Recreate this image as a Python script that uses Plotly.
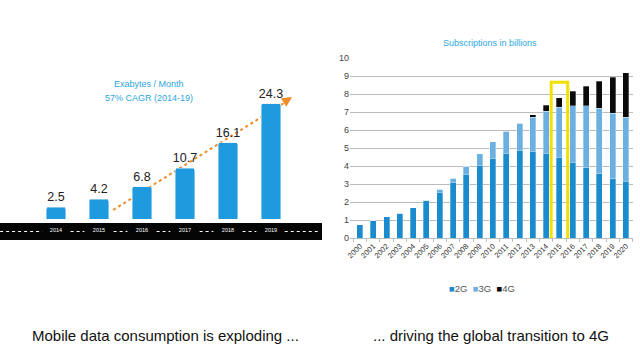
import plotly.graph_objects as go

# ---------------- data ----------------
traffic_years = ["2014", "2015", "2016", "2017", "2018", "2019"]
traffic_values = [2.5, 4.2, 6.8, 10.7, 16.1, 24.3]

sub_years = [str(y) for y in range(2000, 2021)]
sub_2g = [0.74, 1.0, 1.17, 1.37, 1.68, 2.1, 2.55, 3.07, 3.55, 4.05, 4.44,
          4.72, 4.87, 4.81, 4.72, 4.5, 4.2, 3.89, 3.57, 3.3, 3.15]
sub_3g = [0, 0, 0, 0, 0, 0, 0.17, 0.26, 0.45, 0.62, 0.91,
          1.22, 1.5, 1.91, 2.32, 2.76, 3.15, 3.46, 3.63, 3.64, 3.57]
sub_4g = [0, 0, 0, 0, 0, 0, 0, 0, 0, 0, 0,
          0, 0, 0.13, 0.33, 0.52, 0.8, 1.08, 1.5, 2.0, 2.45]
series_names = ["2G", "3G", "4G"]
series_colors = ["#1a8bcc", "#6cb0e2", "#0a0a0a"]
highlight_year = "2015"

FONT = "Liberation Sans Narrow, Arial Narrow, Liberation Sans, Arial, sans-serif"
W, H = 640, 360

fig = go.Figure()

# ---------------- left chart ----------------
fig.add_trace(go.Bar(
    x=traffic_years, y=traffic_values, xaxis="x", yaxis="y",
    marker=dict(color="#1e9ade", cornerradius=2), text=[f"{v:.1f}" for v in traffic_values],
    textposition="outside", cliponaxis=False, constraintext="none",
    textfont=dict(family=FONT, size=12.5, color="#222222"),
    showlegend=False, hoverinfo="x+y",
))

# ---------------- right chart ----------------
for name, vals, col in zip(series_names, [sub_2g, sub_3g, sub_4g], series_colors):
    fig.add_trace(go.Bar(
        x=sub_years, y=vals, name=name, xaxis="x2", yaxis="y2", showlegend=False,
        marker=dict(color=col, line=dict(color="rgba(255,255,255,0.6)", width=0.5)),
    ))

def px_y(p):
    return (H - p) / H

shapes = []
# black band under left chart
shapes.append(dict(type="rect", xref="paper", yref="paper", x0=0, x1=322 / W,
                   y0=px_y(240), y1=px_y(223), fillcolor="#050505", line=dict(width=0), layer="below"))
# dotted white lines in band between year labels
n = len(traffic_years)
segs = [(-1.30, -0.32)] + [(i + 0.34, i + 0.66) for i in range(n - 1)] + [(n - 1 + 0.32, 6.12)]
for a, b in segs:
    shapes.append(dict(type="line", xref="x", yref="paper", x0=a, x1=b,
                       y0=px_y(231.5), y1=px_y(231.5),
                       line=dict(color="white", width=1.2, dash="dot"), layer="below"))
# orange dotted trend line (behind bars)
shapes.append(dict(type="line", xref="x", yref="y", x0=1.33, y0=1.9, x1=5.47, y1=25.4,
                   line=dict(color="#f08c2a", width=2, dash="dot"), layer="below"))
# yellow highlight box
hi = sub_years.index(highlight_year)
shapes.append(dict(type="rect", xref="x2", yref="y2", x0=hi - 0.62, x1=hi + 0.62,
                   y0=-0.38, y1=8.65, line=dict(color="#f2e000", width=3), fillcolor="rgba(0,0,0,0)"))

legend_text = "  ".join(
    f"<span style='color:{c}'>■</span>{nm}" for nm, c in zip(series_names, series_colors)
)

def ann(text, x, y, size, color):
    return dict(text=text, x=x / W, y=px_y(y), xref="paper", yref="paper",
                xanchor="center", yanchor="middle", showarrow=False,
                font=dict(family=FONT, size=size, color=color))

annotations = [
    ann("Exabytes / Month", 149, 84, 9, "#2ea6de"),
    ann("57% CAGR (2014-19)", 149, 98, 9, "#2ea6de"),
    dict(x=5.49, y=25.7, xref="x", yref="y", ax=-7, ay=4.5, text="", showarrow=True,
         arrowhead=2, arrowsize=1, arrowwidth=2, arrowcolor="#f08c2a"),
    ann("Subscriptions in billions", 490, 43, 9, "#2ea6de"),
    ann(legend_text, 482, 288, 9.5, "#555555"),
    ann("Mobile data consumption is exploding ...", 165, 335, 15, "#111111"),
    ann("... driving the global transition to 4G", 491, 335, 15, "#111111"),
]

fig.update_layout(
    width=W, height=H, margin=dict(l=0, r=0, t=0, b=0, autoexpand=False),
    paper_bgcolor="white", plot_bgcolor="rgba(0,0,0,0)",
    barmode="stack", bargap=0.55, showlegend=False,
    font=dict(family=FONT),
    xaxis=dict(domain=[0, 320 / W], range=[-1.302, 6.14], type="category",
               showgrid=False, zeroline=False, showline=False, ticks="", automargin=False,
               tickfont=dict(family=FONT, size=5.5, color="white"), ticklabelstandoff=6),
    yaxis=dict(domain=[px_y(219), px_y(60)], range=[0, 33.5], visible=False),
    xaxis2=dict(domain=[350 / W, 633 / W], range=[-0.75, 20.53], type="category",
                anchor="y2", showgrid=False, showline=True, linecolor="#bdbdbd", automargin=False,
                ticks="outside", ticklen=3, tickcolor="#bdbdbd", tickson="boundaries",
                tickangle=-45, tickfont=dict(family=FONT, size=7.5, color="#333333")),
    yaxis2=dict(domain=[px_y(238), px_y(58)], range=[0, 10], anchor="x2", automargin=False,
                dtick=1, showgrid=True, gridcolor="#bcbcbc", gridwidth=1, zeroline=False,
                tickfont=dict(family=FONT, size=9, color="#444444"), ticks="",
                showline=False),
    shapes=shapes, annotations=annotations,
)

fig.write_html("out.html", config={"displayModeBar": False},
               post_script="document.body.style.margin='0';document.body.style.padding='0';")
